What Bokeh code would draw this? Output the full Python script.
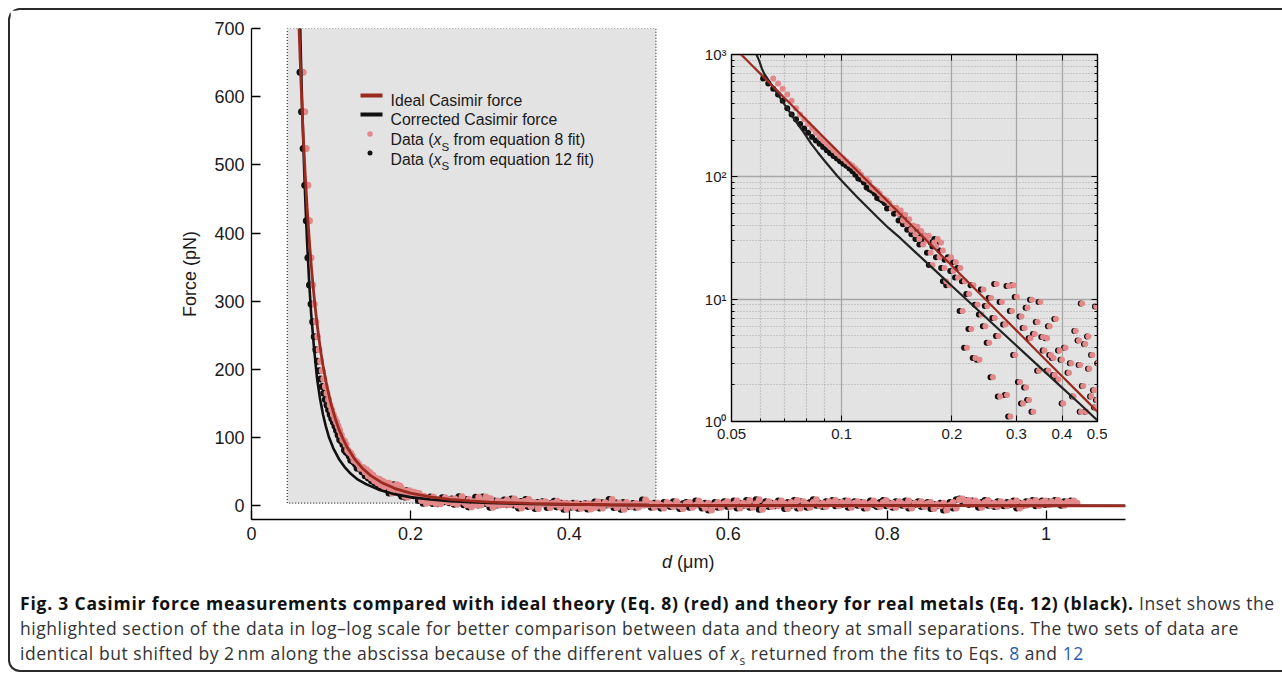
import numpy as np
from bokeh.plotting import figure
from bokeh.models import Label, FixedTicker, LogAxis, Div, Range1d
from bokeh.layouts import column
from bokeh.embed import file_html
from bokeh.resources import INLINE

# ---------------- data ----------------
# Measured force (pN), data set with x_S from the equation 8 fit (pink).
# The data are sampled on regular separation grids (start, step in um).
SEG1_START, SEG1_STEP = 0.065, 0.002
force_seg1 = [636, 578, 524, 470, 418, 364, 324, 296, 270, 248,
              229, 212, 198, 186, 175, 165, 156, 148, 141, 134,
              128, 123, 117, 111, 104, 97, 95, 90, 82, 79,
              77, 73, 67, 66, 64, 61, 55, 56, 56, 50,
              53, 44, 49, 41, 45, 37, 40, 34, 39, 31,
              36, 28, 33, 30, 33, 24, 19, 29, 27, 31,
              22, 29, 25, 18, 14, 21, 13, 22]
SEG2_START, SEG2_STEP = 0.202, 0.003
force_seg2 = [17, 20, 15, 18, 8, 14, 4, 11, 5.7, 13,
              3.3, 9, 3.2, 7.5, 12, 6, 8.8, 4.4, 10.2, 2.3,
              7, 13.3, 5, 1.6, 9.5, -1.5, 6.2, 1.65, 12.8, 1.1,
              8, 13, 3.5, 10.4, -2, 2.1, 7.2, 1.4, 5.8, 1.9,
              8.5, 1.5, 4.8, 9.9, 1.2, 5.2, -3, 6.5, 2.6, 9.5,
              -1, 4.9, 3.8, -4, 4.8, 2.6, 6, 3.5, -2.5, 3.3,
              2.4, 6.9, -1.5, 2.2, 3.8, -5, 3.2, 1.4, -2, 4,
              0.5, -3.5, 2.5, -1, 3, -4.5, 1.6, -2, 5.5, 0.8,
              -3, 4.6, 2.9, 1.2, 9.2, 1.95, -2.5, 4.3, 1.2, -5,
              4.95, 2.7, -1, 1.6, 3.5, -2, 1.8, 1.3, 8.7, 1.5]
SEG3_START, SEG3_STEP = 0.503, 0.004
force_seg3 = [3, -2, 4, 1, -3, 5, 2, -1, 6, 0,
              -4, 3, 5, -2, 1, 7, 2, -3, 4, -6,
              1, 5, -2, 3, 6, -1, 2, 7, -3, 4,
              1, 8, -2, 3, 9, -5, 2, 6, -1, 4,
              0, 7, 3, -4, 5, 1, 8, -3, 6, 2,
              -2, 5, 9, 1, 4, -1, 6, 3, 8, 0,
              5, 2, 7, -2, 4, 6, 1, 5, -3, 3,
              7, 2, -1, 5, 8, 0, 4, -2, 6, 3,
              1, 7, -3, 4, 2, 6, -1, 3, 5, -4,
              2, 0, 4, -6, 1, 5, -3, 9, 10, 6,
              8, 2, 7, 4, -2, 5, 8, 1, 4, -1,
              6, 3, 0, 5, 2, 7, -3, 4, 1, 6,
              3, 8, 0, 5, 7, 2, 6, 3, 8, 4,
              1, 6, 5, 7, 4]
# the equation-12 data set is the same data shifted along the abscissa (um)
SHIFT_EQ12 = 0.004

# Ideal Casimir force (red curve)
ideal_d = [0.053, 0.055, 0.057, 0.06, 0.0625, 0.065, 0.0675, 0.07, 0.0725, 0.075,
           0.0775, 0.08, 0.0825, 0.085, 0.0875, 0.09, 0.095, 0.1, 0.105, 0.11,
           0.115, 0.12, 0.13, 0.14, 0.15, 0.165, 0.18, 0.2, 0.225, 0.25,
           0.275, 0.3, 0.35, 0.4, 0.45, 0.5, 0.6, 0.7, 0.8, 0.9, 1.0, 1.1]
ideal_F = [1007.5, 901.6, 810.0, 694.4, 614.4, 546.2, 487.7, 437.3, 393.6, 355.6,
           322.2, 293.0, 267.1, 244.2, 223.9, 205.8, 175.0, 150.0, 129.6, 112.7,
           98.6, 86.8, 68.3, 54.7, 44.4, 33.4, 25.7, 18.75, 13.17, 9.60,
           7.21, 5.56, 3.50, 2.34, 1.65, 1.20, 0.694, 0.437, 0.293, 0.206, 0.150, 0.113]
# Corrected Casimir force (black curve)
corr_d = [0.0585, 0.0595, 0.0605, 0.0615, 0.0623, 0.064, 0.066, 0.068, 0.070, 0.0725,
          0.075, 0.0785, 0.0826, 0.086, 0.090, 0.0935, 0.0974, 0.103, 0.110, 0.117,
          0.125, 0.134, 0.1447, 0.16, 0.18, 0.2, 0.225, 0.25, 0.275, 0.3,
          0.35, 0.4, 0.45, 0.5, 0.6, 0.7, 0.8, 0.9, 1.0, 1.1]
corr_F = [1000, 891, 770, 690, 652, 578, 503, 440, 386, 330,
          283, 234, 186, 159, 134, 117, 101, 84.4, 68.8, 57.2,
          47.0, 38.4, 31.5, 23.8, 17.2, 12.8, 9.25, 6.92, 5.32, 4.18,
          2.73, 1.89, 1.37, 1.02, 0.63, 0.41, 0.29, 0.21, 0.16, 0.12]

# highlighted region (= inset range)
HL_LEFT, HL_RIGHT, HL_BOTTOM, HL_TOP = 0.045, 0.509, 4, 700

main_xticks = [0, 0.2, 0.4, 0.6, 0.8, 1.0]
main_xlabels = ["0", "0.2", "0.4", "0.6", "0.8", "1"]
main_yticks = [0, 100, 200, 300, 400, 500, 600, 700]
inset_xticks = [0.05, 0.1, 0.2, 0.3, 0.4, 0.5]
inset_xlabels = ["0.05", "0.1", "0.2", "0.3", "0.4", "0.5"]
inset_xminor = [0.06, 0.07, 0.08, 0.09]
inset_yticks = [1, 10, 100, 1000]
inset_ylabels = ["10\u2070", "10\u00b9", "10\u00b2", "10\u00b3"]
inset_yminor = [2, 3, 4, 5, 6, 7, 8, 9, 20, 30, 40, 50, 60, 70, 80, 90,
                200, 300, 400, 500, 600, 700, 800, 900]

# ---------------- assemble ----------------
segs = [(SEG1_START, SEG1_STEP, force_seg1), (SEG2_START, SEG2_STEP, force_seg2),
        (SEG3_START, SEG3_STEP, force_seg3)]
d8 = np.concatenate([s + st * np.arange(len(f)) for s, st, f in segs])
F = np.concatenate([np.array(f, dtype=float) for _, _, f in segs])
d12 = d8 - SHIFT_EQ12
pos = F > 0

RED = "#9b2b20"
PINK = "#e3898b"
BLACK = "#111111"
GRAY = "#e3e3e3"
FONT = "Liberation Sans"

X0, X1, Y0, Y1 = 0.0, 1.1, -20.0, 700.0
FL, FT, FW, FH = 251, 28, 874, 491  # frame geometry in page pixels


def px_x(px):
    return X0 + (px - FL) / FW * (X1 - X0)


def px_y(py):
    return Y0 + (FT + FH - py) / FH * (Y1 - Y0)


p = figure(frame_width=FW, frame_height=FH, x_range=Range1d(X0, X1), y_range=Range1d(Y0, Y1),
           min_border_left=241, min_border_right=10, min_border_top=18, min_border_bottom=32,
           output_backend="svg", toolbar_location=None)
p.outline_line_color = None
p.grid.visible = False
p.background_fill_color = "white"
p.border_fill_color = "white"

p.quad(left=[HL_LEFT], right=[HL_RIGHT], bottom=[HL_BOTTOM], top=[HL_TOP],
       fill_color=GRAY, line_color="#333333", line_dash="1 2", line_width=1.2)

p.scatter(d12, F, size=7, color=BLACK, line_color=None)
p.scatter(d8, F, size=7, color=PINK, line_color=None)
p.line(corr_d, corr_F, line_color=BLACK, line_width=2.6)
p.line(ideal_d, ideal_F, line_color=RED, line_width=2.8)

for ax in (p.xaxis[0], p.yaxis[0]):
    ax.axis_line_color = "black"
    ax.axis_line_width = 1.3
    ax.major_tick_line_color = "black"
    ax.major_tick_line_width = 1.3
    ax.major_tick_in = 9
    ax.major_tick_out = 0
    ax.minor_tick_line_color = None
    ax.major_label_text_font = FONT
    ax.major_label_text_font_size = "18px"
    ax.major_label_text_color = "#1a1a1a"
    ax.major_label_standoff = 7

p.xaxis[0].ticker = FixedTicker(ticks=main_xticks)
p.xaxis[0].major_label_overrides = {t: l for t, l in zip(main_xticks, main_xlabels)}
p.yaxis[0].ticker = FixedTicker(ticks=main_yticks)
p.yaxis[0].axis_label = "Force (pN)"
p.yaxis[0].axis_label_text_font = FONT
p.yaxis[0].axis_label_text_font_size = "18px"
p.yaxis[0].axis_label_text_font_style = "normal"
p.yaxis[0].axis_label_text_color = "#1a1a1a"
p.yaxis[0].axis_label_standoff = 11

# legend
p.line([px_x(360), px_x(382)], [px_y(95)] * 2, line_color=RED, line_width=4)
p.line([px_x(360), px_x(382)], [px_y(114)] * 2, line_color=BLACK, line_width=4)
p.scatter([px_x(369.5)], [px_y(133.5)], size=5.5, color=PINK, line_color=None)
p.scatter([px_x(369.5)], [px_y(152.5)], size=5, color=BLACK, line_color=None)
leg_kw = dict(text_font=FONT, text_font_size="15.8px", text_color="#1a1a1a", text_baseline="alphabetic")
p.add_layout(Label(x=px_x(390), y=px_y(99.5), text="Ideal Casimir force", **leg_kw))
p.add_layout(Label(x=px_x(390), y=px_y(119), text="Corrected Casimir force", **leg_kw))
for base, eq in ((139, "8"), (158.5, "12")):
    p.add_layout(Label(x=px_x(390), y=px_y(base), text="Data (", **leg_kw))
    p.add_layout(Label(x=px_x(433), y=px_y(base), text="x", text_font_style="italic", **leg_kw))
    p.add_layout(Label(x=px_x(441), y=px_y(base + 7), text="S", text_font=FONT, text_font_size="11.5px",
                       text_color="#1a1a1a", text_baseline="alphabetic"))
    p.add_layout(Label(x=px_x(453), y=px_y(base), text="from equation %s fit)" % eq, **leg_kw))

# ---------------- inset ----------------
# (left/right borders equal to the main plot's, since a column aligns plot frames)
ins = figure(frame_width=366, frame_height=367, x_axis_type="log", y_axis_type="log",
             x_range=Range1d(0.05, 0.5), y_range=Range1d(1, 1000),
             min_border_left=241, min_border_right=10, min_border_top=30, min_border_bottom=35,
             output_backend="svg", toolbar_location=None)
ins.background_fill_color = GRAY
ins.border_fill_alpha = 0
ins.outline_line_color = "black"
ins.outline_line_width = 1.4
ins.add_layout(LogAxis(), "above")
ins.add_layout(LogAxis(), "right")

for ax in ins.xaxis:
    ax.ticker = FixedTicker(ticks=inset_xticks, minor_ticks=inset_xminor)
for ax in ins.yaxis:
    ax.ticker = FixedTicker(ticks=inset_yticks, minor_ticks=inset_yminor)
for ax in list(ins.xaxis) + list(ins.yaxis):
    ax.axis_line_color = "black"
    ax.major_tick_in = 6
    ax.major_tick_out = 0
    ax.minor_tick_in = 3
    ax.minor_tick_out = 0
    ax.major_tick_line_color = "black"
    ax.minor_tick_line_color = "black"
    ax.major_label_text_font = FONT
    ax.major_label_text_font_size = "15px"
    ax.major_label_text_color = "#1a1a1a"
    ax.major_label_standoff = 5
ins.below[0].major_label_overrides = {t: l for t, l in zip(inset_xticks, inset_xlabels)}
ins.below[0].major_label_standoff = 7
ins.left[0].major_label_overrides = {t: l for t, l in zip(inset_yticks, inset_ylabels)}
for ax in (ins.above[0], ins.right[0]):
    ax.major_label_text_color = None
    ax.major_label_text_font_size = "1px"

for g in (ins.xgrid[0], ins.ygrid[0]):
    g.grid_line_color = "#a6a6a6"
    g.grid_line_width = 1.3
    g.minor_grid_line_color = "#a6a6a6"
    g.minor_grid_line_dash = "1 2"
    g.minor_grid_line_width = 1.2

ins.scatter(d12[pos], F[pos], size=6, color=BLACK, line_color=None)
ins.scatter(d8[pos], F[pos], size=6, color=PINK, line_color=None)
ins.line(corr_d, corr_F, line_color="#222222", line_width=2.2)
ins.line(ideal_d, ideal_F, line_color=RED, line_width=2.2)
ins.styles = {"position": "absolute", "left": "480px", "top": "14px"}

# ---------------- x-axis label and caption ----------------
xlabel = Div(text='<div style="font-family:\'Liberation Sans\'; font-size:18px; line-height:23px; '
                  'color:#1a1a1a; padding-left:652px; white-space:nowrap;"><i>d</i> (\u03bcm)</div>',
             width=1272, height=23, margin=0)

LINK = "color:#2a5db0"
cap_html = (
    '<div style="font-family:\'Open Sans\'; font-size:17.5px; letter-spacing:0.55px; line-height:25px; '
    'color:#333333; padding:17px 0 0 10px; white-space:nowrap;">'
    '<b style="color:#111111; letter-spacing:0.8px">Fig. 3 Casimir force measurements compared with ideal '
    'theory (Eq. 8) (red) and theory for real metals (Eq. 12) (black).</b> Inset shows the<br>'
    'highlighted section of the data in log\u2013log scale for better comparison between data and theory '
    'at small separations. The two sets of data are<br>'
    'identical but shifted by 2\u202fnm along the abscissa because of the different values of '
    '<i>x</i><sub style="font-size:12px">s</sub> returned from the fits to Eqs. '
    '<span style="%s">8</span> and <span style="%s">12</span></div>' % (LINK, LINK)
)
caption = Div(text=cap_html, width=1272, height=96, margin=0)

layout = column(p, xlabel, caption, ins, styles={
    "position": "relative",
    "margin": "8px 0 0 8px",
    "border-top": "2px solid #2b2b2b",
    "border-left": "2px solid #2b2b2b",
    "border-bottom": "2px solid #2b2b2b",
    "border-top-left-radius": "12px",
    "border-bottom-left-radius": "12px",
})

open("out.html", "w").write(file_html(layout, INLINE))
